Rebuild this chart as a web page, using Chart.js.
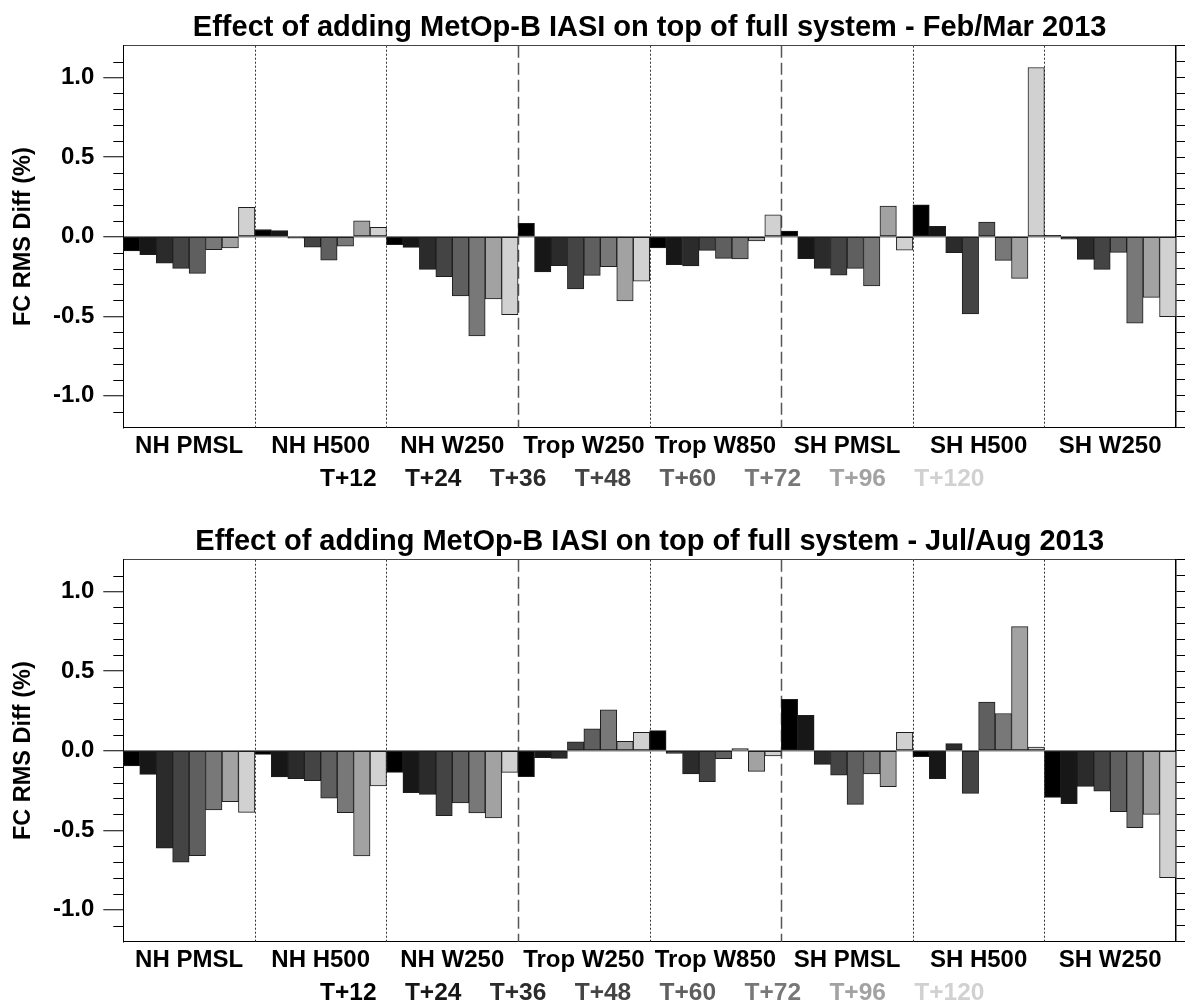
<!DOCTYPE html>
<html><head><meta charset="utf-8">
<script src="https://cdn.jsdelivr.net/npm/chart.js@4.4.1/dist/chart.umd.min.js"></script>
<style>
html,body{margin:0;padding:0;background:#fff;overflow:hidden}
.panel{position:absolute;left:0;width:1185px;height:500px}
</style></head><body>
<div class="panel" style="top:0"><canvas id="feb"></canvas></div>
<div class="panel" style="top:514px"><canvas id="jul"></canvas></div>
<script>
const groups = ['NH PMSL','NH H500','NH W250','Trop W250','Trop W850','SH PMSL','SH H500','SH W250'];
const leadTimes = ['T+12','T+24','T+36','T+48','T+60','T+72','T+96','T+120'];
const shades = ['#000000','#171717','#2b2b2b','#444444','#5f5f5f','#787878','#a2a2a2','#d1d1d1'];
const separators = ['dot','dot','dash','dot','dash','dot','dot'];
const minorTicks = [-1.1,-0.9,-0.8,-0.7,-0.6,-0.4,-0.3,-0.2,-0.1,0.1,0.2,0.3,0.4,0.6,0.7,0.8,0.9,1.1];

// Feb/Mar 2013, one array per forecast range, values per group
const febT12  = [-0.090, 0.045,-0.050, 0.084,-0.070, 0.036, 0.200, 0.008];
const febT24  = [-0.113, 0.038,-0.067,-0.222,-0.176,-0.138, 0.065,-0.015];
const febT36  = [-0.166,-0.010,-0.205,-0.182,-0.184,-0.199,-0.100,-0.142];
const febT48  = [-0.199,-0.066,-0.251,-0.328,-0.086,-0.241,-0.485,-0.205];
const febT60  = [-0.230,-0.148,-0.372,-0.243,-0.136,-0.199, 0.092,-0.098];
const febT72  = [-0.082,-0.059,-0.623,-0.188,-0.140,-0.310,-0.149,-0.544];
const febT96  = [-0.071, 0.100,-0.391,-0.404,-0.027, 0.192,-0.262,-0.381];
const febT120 = [ 0.184, 0.059,-0.490,-0.280, 0.138,-0.084, 1.063,-0.502];

// Jul/Aug 2013
const julT12  = [-0.096,-0.023,-0.136,-0.163, 0.126, 0.322,-0.038,-0.293];
const julT24  = [-0.149,-0.165,-0.264,-0.044,-0.017, 0.222,-0.176,-0.333];
const julT36  = [-0.613,-0.176,-0.274,-0.048,-0.146,-0.086, 0.044,-0.224];
const julT48  = [-0.701,-0.188,-0.408, 0.056,-0.195,-0.153,-0.268,-0.255];
const julT60  = [-0.659,-0.299,-0.328, 0.138,-0.050,-0.337, 0.305,-0.383];
const julT72  = [-0.372,-0.389,-0.391, 0.257, 0.013,-0.146, 0.234,-0.483];
const julT96  = [-0.320,-0.661,-0.423, 0.059,-0.130,-0.226, 0.780,-0.400];
const julT120 = [-0.387,-0.222,-0.136, 0.115,-0.033, 0.115, 0.023,-0.797];

const FONT = '"Liberation Sans", Arial, Helvetica, sans-serif';

const framePlugin = {
  id:'frame',
  beforeDatasetsDraw(chart){
    const {ctx, chartArea:a, scales:{x}} = chart;
    ctx.save();
    separators.forEach((kind,i)=>{
      const px = Math.round((x.getPixelForTick(i)+x.getPixelForTick(i+1))/2)+0.5;
      ctx.beginPath();
      if(kind==='dash'){ctx.setLineDash([12,5]);ctx.strokeStyle='#555';ctx.lineWidth=1.5;}
      else {ctx.setLineDash([2,2]);ctx.strokeStyle='#333';ctx.lineWidth=1;}
      ctx.moveTo(px,a.top); ctx.lineTo(px,a.bottom); ctx.stroke();
    });
    ctx.restore();
  },
  afterDraw(chart){
    const {ctx, chartArea:a, scales:{y}} = chart;
    ctx.save();
    ctx.strokeStyle='#000'; ctx.lineWidth=1;
    minorTicks.forEach(v=>{
      const py = Math.round(y.getPixelForValue(v))+0.5;
      ctx.beginPath(); ctx.moveTo(a.left-10,py); ctx.lineTo(a.left,py); ctx.stroke();
    });
    // forecast-range key under the axis labels
    ctx.font = 'bold 24.5px '+FONT; ctx.textAlign='left'; ctx.textBaseline='alphabetic';
    chart.data.datasets.forEach((d,i)=>{
      ctx.fillStyle = d.backgroundColor;
      ctx.fillText(d.label, 320+i*84.9, 485.5);
    });
    ctx.restore();
  }
};

function makeChart(id, title, series){
  return new Chart(document.getElementById(id), {
    type:'bar',
    data:{labels:groups, datasets:leadTimes.map((t,i)=>({
      label:t, data:series[i], backgroundColor:shades[i], borderColor:'#1e1e1e', borderWidth:1,
      borderSkipped:false, barPercentage:1, categoryPercentage:1, xAxisID:'x', yAxisID:'y'}))},
    options:{
      responsive:true, maintainAspectRatio:false, animation:false,
      layout:{padding:0},
      plugins:{legend:{display:false}, title:{display:false}, tooltip:{enabled:false}},
      scales:{
        x:{position:'bottom', offset:true, grid:{display:false, drawTicks:false},
           border:{display:true, color:'#000', width:1},
           ticks:{color:'#000', font:{family:FONT, size:24, weight:'bold'}, padding:4, maxRotation:0, autoSkip:false},
           afterFit:s=>{s.height=72.3}},
        xTop:{type:'category', position:'top', offset:true, grid:{display:false, drawTicks:false},
           border:{display:true, color:'#444', width:1}, ticks:{display:false},
           title:{display:true, text:title, color:'#000', font:{family:FONT, size:29, weight:'bold'}, padding:{top:10.5, bottom:0}},
           afterFit:s=>{s.height=45.7}},
        y:{position:'left', min:-1.2, max:1.2,
           ticks:{stepSize:0.5, includeBounds:false, color:'#000', font:{family:FONT, size:24, weight:'bold'}, padding:9,
                  callback:v=>Number(v).toFixed(1)},
           grid:{color:c=>c.tick && c.tick.value===0 ? '#808080' : 'rgba(0,0,0,0)', lineWidth:1.5,
                 tickLength:20, tickColor:'#000', tickWidth:1},
           border:{display:true, color:'#000', width:1},
           title:{display:true, text:'FC RMS Diff (%)', color:'#000', font:{family:FONT, size:23.5, weight:'bold'}, padding:{top:9}},
           afterFit:s=>{s.width=123.3}},
        yR:{position:'right', min:-1.2, max:1.2,
            ticks:{display:false, stepSize:0.1, maxTicksLimit:50},
            grid:{drawOnChartArea:false, tickLength:10, tickColor:'#000'},
            border:{display:true, color:'#000', width:1.5},
            afterFit:s=>{s.width=9}}
      }
    },
    plugins:[framePlugin]
  });
}

makeChart('feb','Effect of adding MetOp-B IASI on top of full system - Feb/Mar 2013',
  [febT12,febT24,febT36,febT48,febT60,febT72,febT96,febT120]);
makeChart('jul','Effect of adding MetOp-B IASI on top of full system - Jul/Aug 2013',
  [julT12,julT24,julT36,julT48,julT60,julT72,julT96,julT120]);
</script>
</body></html>
